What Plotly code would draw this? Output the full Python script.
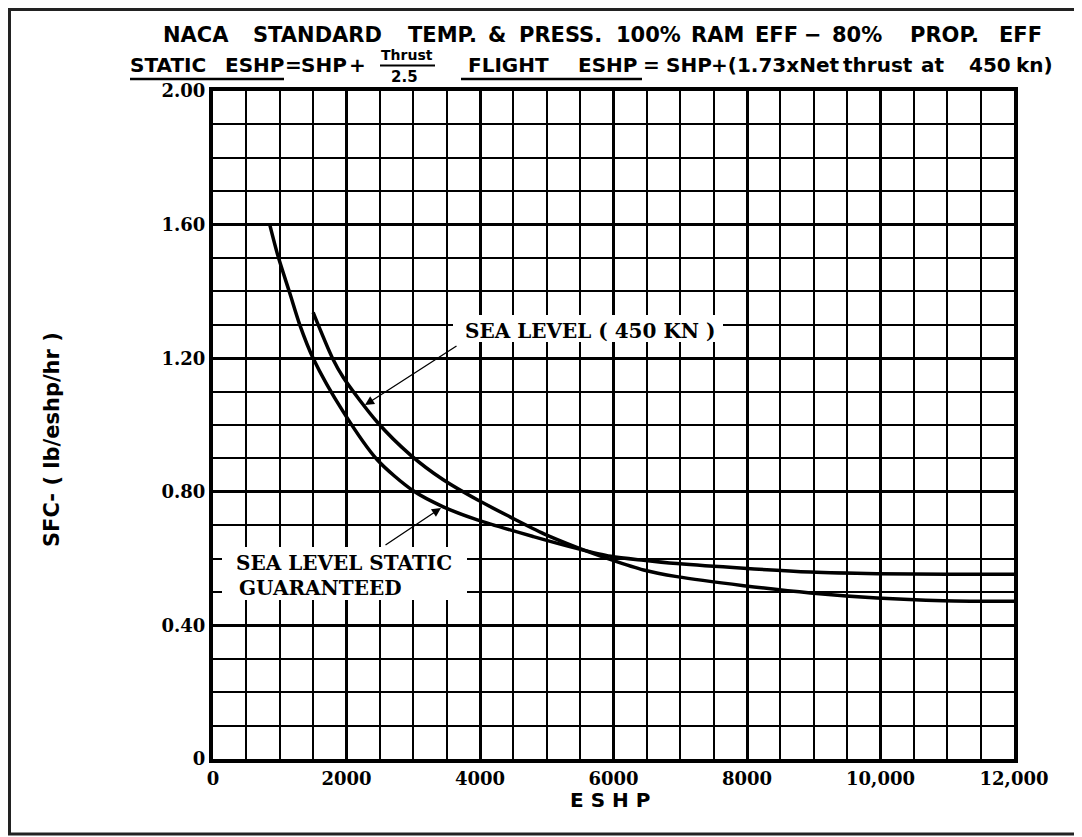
import plotly.graph_objects as go

# ---------------- data ----------------
static_eshp = [850, 975, 1150, 1300, 1500, 1950, 2460, 3000, 3450, 3960, 4800, 5460, 5960, 6450, 6950, 7950, 8950, 9950, 11000, 12000]
static_sfc = [1.60, 1.505, 1.395, 1.30, 1.20, 1.04, 0.896, 0.803, 0.755, 0.716, 0.666, 0.630, 0.607, 0.595, 0.585, 0.571, 0.560, 0.555, 0.553, 0.553]

flight_eshp = [1500, 1790, 1950, 2460, 2960, 3450, 3960, 4450, 4950, 5460, 5960, 6450, 6950, 7950, 8950, 9950, 10940, 12000]
flight_sfc = [1.337, 1.20, 1.143, 1.009, 0.91, 0.836, 0.776, 0.725, 0.675, 0.633, 0.597, 0.566, 0.546, 0.519, 0.497, 0.482, 0.474, 0.472]

x_tickvals = [0, 2000, 4000, 6000, 8000, 10000, 12000]
x_ticktext = ["0", "2000", "4000", "6000", "8000", "10,000", "12,000"]
y_tickvals = [0, 0.4, 0.8, 1.2, 1.6, 2.0]
y_ticktext = ["0", "0.40", "0.80", "1.20", "1.60", "2.00"]

# ---------------- layout helpers ----------------
W, H = 1082, 837
OFF = 8                      # page body margin of the html page
L, R, T, B = 213, 1014, 91, 759   # target screen pixels of the plot area
XMAX, YMAX = 12000, 2.0


def px(xp):
    return (xp - L) / (R - L)


def py(yp):
    return (B - yp) / (B - T)


def dx(xp):
    return (xp - L) / (R - L) * XMAX


def dy(yp):
    return (B - yp) / (B - T) * YMAX


SANS = "DejaVu Sans"
SERIF = "DejaVu Serif"

fig = go.Figure()
fig.add_trace(go.Scatter(x=static_eshp, y=static_sfc, mode="lines",
                         line=dict(color="black", width=3.5, shape="spline", smoothing=0.8),
                         name="SEA LEVEL STATIC GUARANTEED", showlegend=False, hoverinfo="skip"))
fig.add_trace(go.Scatter(x=flight_eshp, y=flight_sfc, mode="lines",
                         line=dict(color="black", width=3.5, shape="spline", smoothing=0.8),
                         name="SEA LEVEL (450 KN)", showlegend=False, hoverinfo="skip"))

annotations = []


def label(txt, cx, cy, size=20, family=SANS, bold=True, **kw):
    annotations.append(dict(x=px(cx), y=py(cy), xref="paper", yref="paper", text=txt,
                            showarrow=False, xanchor="center", yanchor="middle",
                            font=dict(family=family, size=size, color="black",
                                      weight="bold" if bold else "normal"), **kw))


# title line 1
for txt, cx in [("NACA", 196), ("STANDARD", 317), ("TEMP.", 442), ("&", 497), ("PRESS.", 560),
                ("100%", 648), ("RAM", 717), ("EFF", 776), ("\u2212", 813), ("80%", 857),
                ("PROP.", 944), ("EFF", 1020)]:
    label(txt, cx, 35, size=21)

# title line 2
for txt, cx in [("STATIC", 168), ("ESHP", 254), ("=", 293), ("SHP", 324), ("+", 357),
                ("FLIGHT", 508), ("ESHP", 607), ("=", 651), ("SHP", 689), ("+(1.73xNet", 775),
                ("thrust", 878), ("at", 932), ("450", 990), ("kn)", 1034)]:
    label(txt, cx, 65)
label("Thrust", 407, 55, size=14)
label("2.5", 404, 77, size=15)

# axis titles
label("SFC- ( lb/eshp/hr )", 52, 440, size=21, textangle=-90)
label("E S H P", 610, 800, size=20)

# curve labels (data coordinates)
for txt, cx, cy, size, anchor in [("SEA LEVEL ( 450 KN )", 590, 331, 20, "center"),
                                  ("SEA LEVEL STATIC", 344, 563, 20, "center"),
                                  ("GUARANTEED", 237, 588, 20, "left")]:
    annotations.append(dict(x=dx(cx), y=dy(cy), text=txt, showarrow=False,
                            xanchor=anchor, yanchor="middle",
                            font=dict(family=SERIF, size=size, color="black", weight="bold")))

# arrows
for hx, hy, tx, ty in [(365, 405, 458, 345), (441, 508, 384, 546)]:
    annotations.append(dict(x=dx(hx), y=dy(hy), ax=dx(tx), ay=dy(ty), axref="x", ayref="y",
                            xref="x", yref="y", text="", showarrow=True, arrowhead=2,
                            arrowsize=1.4, arrowwidth=1.3, arrowcolor="black", standoff=0))

shapes = [
    # page border
    dict(type="rect", xref="paper", yref="paper", x0=px(OFF + 1.5), x1=px(1078), y0=py(834), y1=py(OFF + 1.5),
         line=dict(color="#222", width=3), fillcolor="rgba(0,0,0,0)", layer="below"),
    # underlines
    dict(type="line", xref="paper", yref="paper", x0=px(130), x1=px(284), y0=py(79), y1=py(79),
         line=dict(color="black", width=2.5)),
    dict(type="line", xref="paper", yref="paper", x0=px(461), x1=px(642), y0=py(79), y1=py(79),
         line=dict(color="black", width=2.5)),
    # fraction bar
    dict(type="line", xref="paper", yref="paper", x0=px(380), x1=px(435), y0=py(65.5), y1=py(65.5),
         line=dict(color="black", width=2)),
    # white label backgrounds
    dict(type="rect", xref="x", yref="y", x0=dx(453), x1=dx(723), y0=dy(342), y1=dy(315),
         line=dict(width=0), fillcolor="white", layer="above"),
    dict(type="rect", xref="x", yref="y", x0=dx(222), x1=dx(467), y0=dy(600), y1=dy(547),
         line=dict(width=0), fillcolor="white", layer="above"),
]

fig.update_layout(
    width=W, height=H,
    margin=dict(l=L - OFF, r=W - (R - OFF), t=T - OFF, b=H - (B - OFF), pad=0),
    paper_bgcolor="white", plot_bgcolor="white",
    annotations=annotations, shapes=shapes,
    xaxis=dict(range=[0, XMAX], tickvals=x_tickvals, ticktext=x_ticktext,
               showgrid=True, gridcolor="black", gridwidth=3.2, zeroline=False,
               showline=True, linecolor="black", linewidth=4, mirror=True, ticks="",
               tickfont=dict(family=SERIF, size=18, color="black", weight="bold"),
               minor=dict(dtick=500, tick0=0, showgrid=True, gridcolor="black", gridwidth=1.7, ticks=""),
               fixedrange=True),
    yaxis=dict(range=[0, YMAX], tickvals=y_tickvals, ticktext=y_ticktext,
               showgrid=True, gridcolor="black", gridwidth=3.2, zeroline=False,
               showline=True, linecolor="black", linewidth=4, mirror=True, ticks="",
               tickfont=dict(family=SERIF, size=18, color="black", weight="bold"),
               minor=dict(dtick=0.1, tick0=0, showgrid=True, gridcolor="black", gridwidth=1.7, ticks=""),
               ticklabelstandoff=0, fixedrange=True),
)

fig.write_html("out.html")
